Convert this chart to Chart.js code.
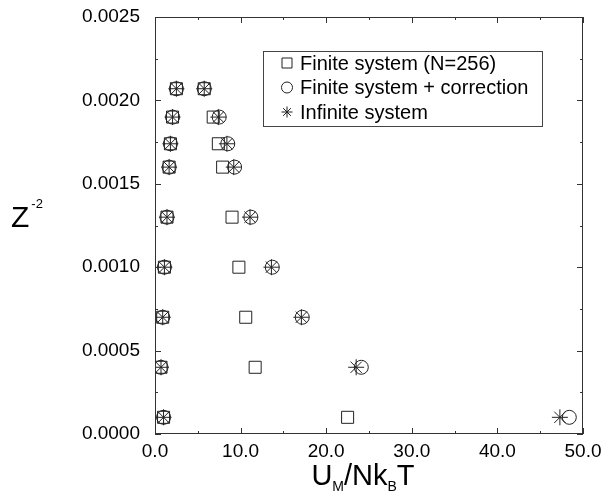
<!DOCTYPE html>
<html>
<head>
<meta charset="utf-8">
<script src="https://cdn.jsdelivr.net/npm/chart.js@4/dist/chart.umd.min.js"></script>
<style>
  body { margin: 0; background: #fff; }
</style>
</head>
<body>
<canvas id="zChart" width="601" height="492"></canvas>
<script>
// Z^-2 rows (same for every series)
const zRows = [0.0001, 0.0004, 0.0007, 0.0010, 0.0013, 0.0016, 0.00174, 0.0019, 0.00207];

// low branch, the three symbols sit on top of each other
const lowBranch = [1.0, 0.7, 0.9, 1.1, 1.4, 1.65, 1.8, 2.05, 2.5];

// high branch, one list per series
const finiteHigh = [22.5, 11.7, 10.6, 9.8, 9.0, 7.9, 7.4, 6.8, 5.75];
const correctedHigh = [48.4, 24.1, 17.2, 13.7, 11.2, 9.3, 8.5, 7.5, 5.75];
const infiniteHigh = [47.3, 23.5, 17.1, 13.6, 11.1, 9.2, 8.4, 7.4, 5.75];

const seriesNames = ['Finite system (N=256)', 'Finite system + correction', 'Infinite system'];

const xTicks = [0, 10, 20, 30, 40, 50];
const yTicks = [0, 0.0005, 0.0010, 0.0015, 0.0020, 0.0025];

function points(high) {
  const pts = [];
  zRows.forEach((z, i) => pts.push({ x: lowBranch[i], y: z }));
  zRows.forEach((z, i) => pts.push({ x: high[i], y: z }));
  return pts;
}

const ink = '#222';
const FONT = '"Liberation Sans", Arial, Helvetica, sans-serif';

// marker drawing used by the legend
function drawMarker(ctx, style, x, y, r) {
  ctx.beginPath();
  if (style === 'rect') {
    ctx.rect(x - r, y - r, 2 * r, 2 * r);
  } else if (style === 'circle') {
    ctx.arc(x, y, r, 0, Math.PI * 2);
  } else {
    for (let k = 0; k < 4; k++) {
      const a = k * Math.PI / 4;
      ctx.moveTo(x - r * Math.cos(a), y - r * Math.sin(a));
      ctx.lineTo(x + r * Math.cos(a), y + r * Math.sin(a));
    }
  }
  ctx.stroke();
}

const decor = {
  id: 'decor',
  afterDraw(chart) {
    const ctx = chart.ctx;
    const a = chart.chartArea;
    const xs = chart.scales.x, ys = chart.scales.y;
    ctx.save();
    ctx.strokeStyle = '#333';
    ctx.lineWidth = 1;

    // frame
    ctx.strokeRect(a.left + 0.5, a.top + 0.5, a.right - a.left - 1, a.bottom - a.top - 1);

    // inward ticks on all four sides
    ctx.beginPath();
    for (let v = 0; v <= 50; v += 5) {
      const px = Math.round(xs.getPixelForValue(v)) + 0.5;
      const len = v % 10 === 0 ? 6 : 3;
      ctx.moveTo(px, a.bottom); ctx.lineTo(px, a.bottom - len);
      ctx.moveTo(px, a.top); ctx.lineTo(px, a.top + len);
    }
    for (let k = 0; k <= 10; k++) {
      const v = k * 0.00025;
      const py = Math.round(ys.getPixelForValue(v)) + 0.5;
      const len = k % 2 === 0 ? 6 : 3;
      ctx.moveTo(a.left, py); ctx.lineTo(a.left + len, py);
      ctx.moveTo(a.right, py); ctx.lineTo(a.right - len, py);
    }
    ctx.stroke();

    // legend box
    const lx = a.left + 108, ly = a.top + 34;
    ctx.strokeStyle = '#444';
    ctx.strokeRect(lx + 0.5, ly + 0.5, 279, 75);
    ctx.font = '20px ' + FONT;
    ctx.fillStyle = '#000';
    ctx.textBaseline = 'middle';
    ctx.strokeStyle = ink;
    chart.data.datasets.forEach((ds, i) => {
      const yy = ly + 12 + i * 24.5;
      const r = ds.pointStyle === 'rect' ? 5 : 5.5;
      drawMarker(ctx, ds.pointStyle, lx + 24, yy, r);
      ctx.fillText(ds.label, lx + 37, yy + 1);
    });

    // y title: Z^-2
    ctx.textBaseline = 'alphabetic';
    ctx.font = '30px ' + FONT;
    ctx.fillText('Z', 11, 227);
    const zw = ctx.measureText('Z').width;
    ctx.font = '13px ' + FONT;
    ctx.fillText('-2', 11 + zw + 2, 208);

    // x title: U_M/Nk_BT
    const big = '29px ' + FONT, small = '14px ' + FONT;
    const parts = [['U', big, 0], ['M', small, 6], ['/Nk', big, 0], ['B', small, 6], ['T', big, 0]];
    let total = 0;
    parts.forEach(p => { ctx.font = p[1]; total += ctx.measureText(p[0]).width; });
    let cx = (a.left + a.right) / 2 - 6 - total / 2;
    const base = 485;
    parts.forEach(p => {
      ctx.font = p[1];
      ctx.fillText(p[0], cx, base + p[2]);
      cx += ctx.measureText(p[0]).width;
    });
    ctx.restore();
  }
};

const zChart = new Chart(document.getElementById('zChart'), {
  type: 'scatter',
  data: {
    datasets: [
      {
        label: seriesNames[0],
        data: points(finiteHigh),
        pointStyle: 'rect',
        pointRadius: 8.5,
        borderColor: ink,
        backgroundColor: 'rgba(0,0,0,0)',
        borderWidth: 1
      },
      {
        label: seriesNames[1],
        data: points(correctedHigh),
        pointStyle: 'circle',
        pointRadius: 7,
        borderColor: ink,
        backgroundColor: 'rgba(0,0,0,0)',
        borderWidth: 1
      },
      {
        label: seriesNames[2],
        data: points(infiniteHigh),
        pointStyle: 'star',
        pointRadius: 8,
        borderColor: ink,
        backgroundColor: 'rgba(0,0,0,0)',
        borderWidth: 1
      }
    ]
  },
  options: {
    responsive: false,
    animation: false,
    layout: { padding: { top: 17, right: 18, left: 0, bottom: 0 } },
    plugins: {
      legend: { display: false },
      tooltip: { enabled: false }
    },
    scales: {
      x: {
        type: 'linear',
        min: 0,
        max: 50,
        afterFit: s => { s.height = 58; s.paddingLeft = 0; s.paddingRight = 0; },
        afterBuildTicks: s => { s.ticks = xTicks.map(v => ({ value: v })); },
        ticks: {
          color: '#000',
          font: { size: 19, family: FONT },
          padding: 6,
          maxRotation: 0,
          callback: v => v.toFixed(1)
        },
        grid: { display: false, drawTicks: false },
        border: { display: false }
      },
      y: {
        min: 0,
        max: 0.0025,
        afterFit: s => { s.width = 155; s.paddingTop = 0; s.paddingBottom = 0; },
        afterBuildTicks: s => { s.ticks = yTicks.map(v => ({ value: v })); },
        ticks: {
          color: '#000',
          font: { size: 19, family: FONT },
          padding: 15,
          callback: v => v.toFixed(4)
        },
        grid: { display: false, drawTicks: false },
        border: { display: false }
      }
    }
  },
  plugins: [decor]
});
</script>
</body>
</html>
